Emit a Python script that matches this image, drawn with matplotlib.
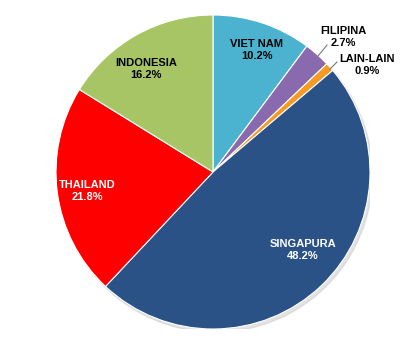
import matplotlib.pyplot as plt

# share of each country
labels = ['VIET NAM', 'FILIPINA', 'LAIN-LAIN', 'SINGAPURA', 'THAILAND', 'INDONESIA']
values = [10.2, 2.7, 0.9, 48.2, 21.8, 16.2]
colors = ['#4bb3cf', '#8a6aae', '#f59a23', '#2b5287', '#ff0000', '#a8c566']
text_colors = ['black', 'black', 'black', 'white', 'white', 'black']

# label centres in pixel space of the original picture
label_px = [(257, 50), (343, 37), (367, 65), (303, 250), (87, 191), (146, 69)]

fig = plt.figure(figsize=(4.2, 3.5), dpi=100)
cx, cy, r = 213, 172, 157
ax = fig.add_axes([(cx - r) / 420, (350 - cy - r) / 350, 2 * r / 420, 2 * r / 350])

# soft shadow
shadow = plt.Circle((0.015, -0.02), 1.0, color='#c8c8c8', alpha=0.5, zorder=0)
ax.add_patch(shadow)

ax.pie(values, colors=colors, startangle=90, counterclock=False, radius=1.0,
       wedgeprops=dict(edgecolor='white', linewidth=0.8))

for i, lab in enumerate(labels):
    px, py = label_px[i]
    x = (px - cx) / r
    y = (cy - py) / r
    ax.text(x, y, f'{lab}\n{values[i]:.1f}%', ha='center', va='center',
            color=text_colors[i], fontsize=8, fontweight='bold',
            family='Liberation Sans', linespacing=1.35)

# leader lines for the small slices
ax.plot([(318 - cx) / r, (327 - cx) / r], [(cy - 56) / r, (cy - 45) / r], color='#777777', lw=0.8)
ax.plot([(330 - cx) / r, (337 - cx) / r], [(cy - 69) / r, (cy - 62) / r], color='#777777', lw=0.8)

ax.set_xlim(-1, 1)
ax.set_ylim(-1, 1)
ax.set_aspect('equal')
ax.axis('off')

fig.savefig('out.png', dpi=100)
